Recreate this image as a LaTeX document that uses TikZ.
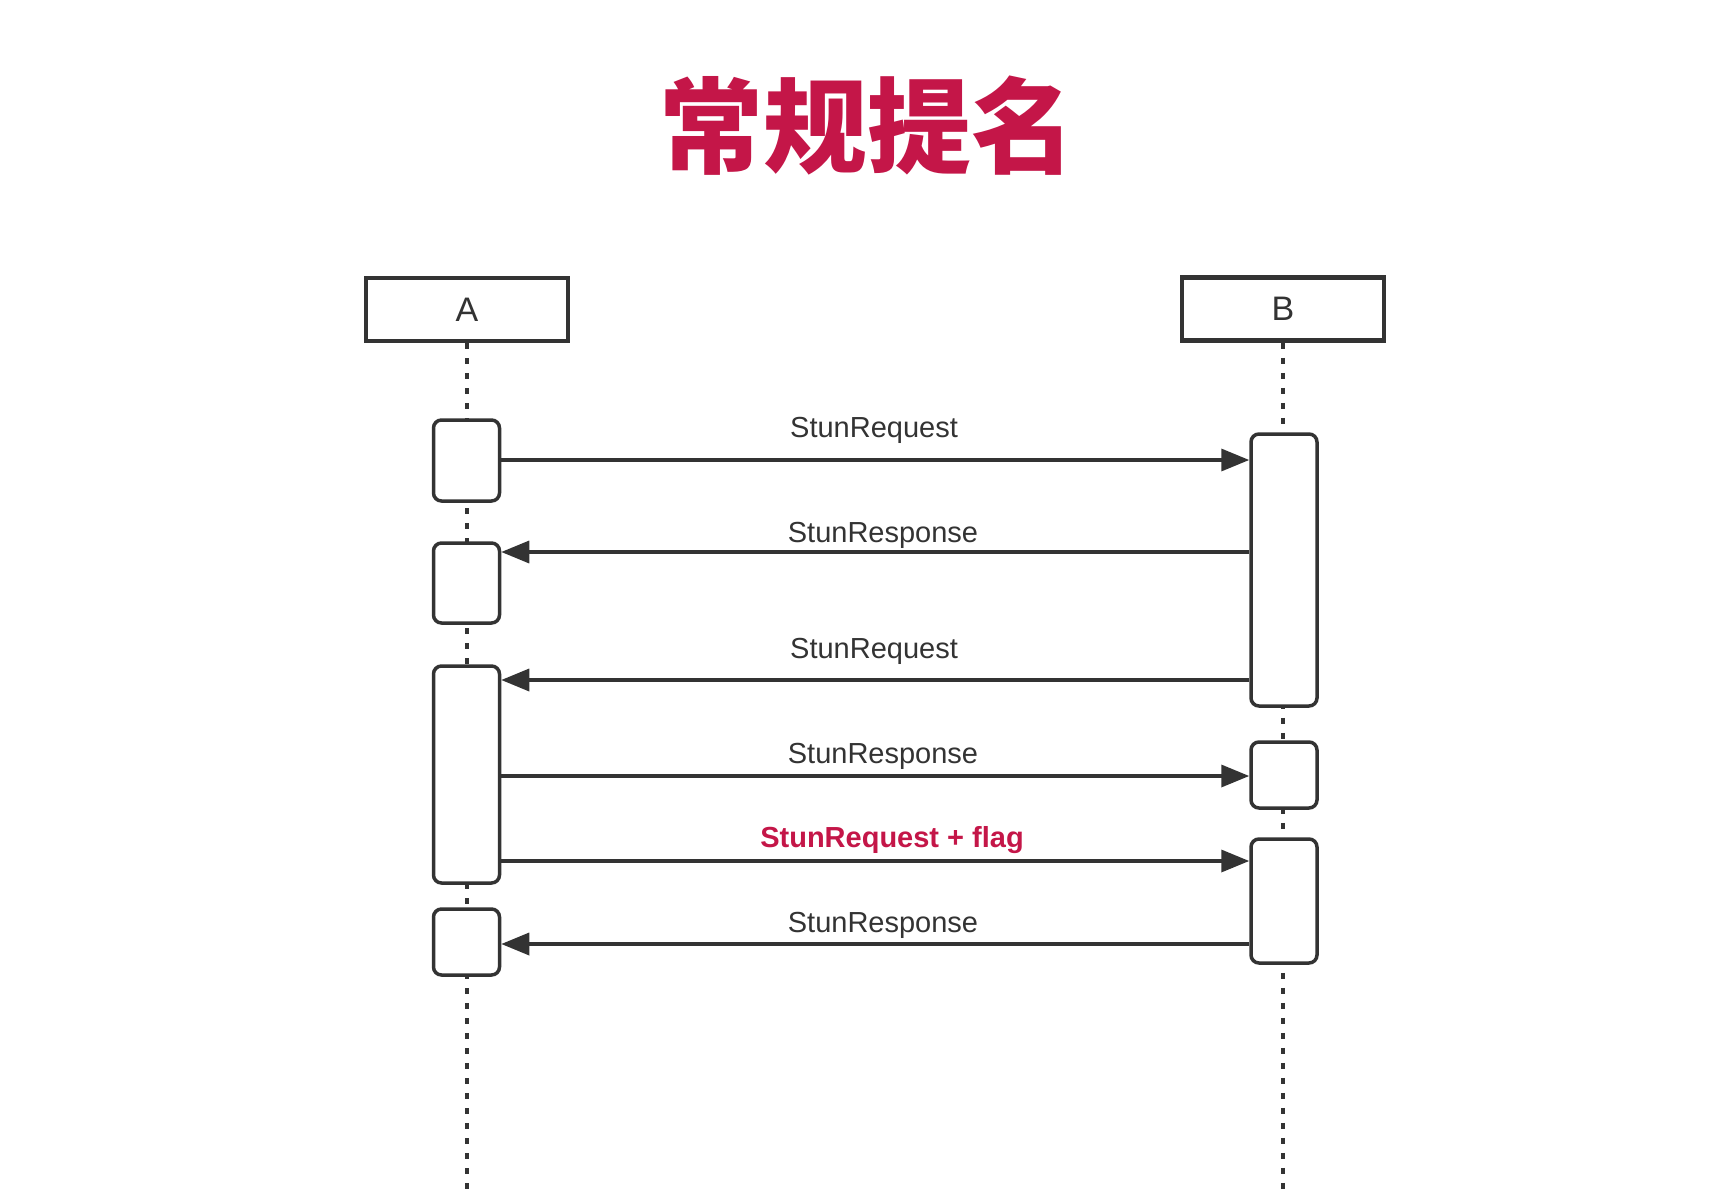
\documentclass[tikz,border=0pt]{standalone}
\usepackage{fontspec}
\setmainfont{Liberation Sans}
\newfontfamily\cjk{Noto Sans CJK SC}
\usetikzlibrary{arrows.meta,calc}
\definecolor{crim}{RGB}{196,22,72}
\definecolor{ink}{RGB}{51,51,51}
\tikzset{
  part/.style={draw=ink, line width=4.5pt, fill=white, minimum width=202pt, minimum height=63pt, inner sep=0pt, font=\fontsize{34}{40}\selectfont, text=ink},
  actbox/.style={draw=ink, line width=3.5pt, fill=white, rounded corners=8pt, minimum width=66pt, inner sep=0pt},
  lifeline/.style={draw=ink, line width=3.5pt, dash pattern=on 6pt off 9pt},
  msg/.style={draw=ink, line width=3.5pt, -{Triangle[length=28pt,width=22pt]}},
  msglabel/.style={anchor=base, inner sep=0pt, text=ink, font=\fontsize{29}{34}\selectfont},
}
\begin{document}
\begin{tikzpicture}[x=1pt,y=-1pt]
\useasboundingbox[fill=white] (0,0) rectangle (1722,1196);
% title
\node[text=crim, font=\cjk\bfseries\fontsize{104}{114}\selectfont, inner sep=0pt] (title) at (867,126) {常规提名};
% participants
\node[part] (A) at (467,309.5) {A};
\node[part] (B) at (1283,309) {B};
\coordinate (Aend) at (467,1196);
\coordinate (Bend) at (1283,1196);
\draw[lifeline] (A.south) -- (Aend);
\draw[lifeline] (B.south) -- (Bend);
% activations
\node[actbox, minimum height=81pt] (a1) at (466.5,460.5) {};
\node[actbox, minimum height=80pt] (a2) at (466.5,583) {};
\node[actbox, minimum height=217pt] (a3) at (466.5,774.5) {};
\node[actbox, minimum height=66pt] (a4) at (466.5,942) {};
\node[actbox, minimum height=272pt] (b1) at (1284,570) {};
\node[actbox, minimum height=66pt] (b2) at (1284,775) {};
\node[actbox, minimum height=124pt] (b3) at (1284,901) {};
% message levels
\coordinate (m1) at (0,460);
\coordinate (m2) at (0,552);
\coordinate (m3) at (0,680);
\coordinate (m4) at (0,776);
\coordinate (m5) at (0,861);
\coordinate (m6) at (0,944);
% messages
\draw[msg] (a1.east |- m1) -- (b1.west |- m1);
\draw[msg] (b1.west |- m2) -- (a2.east |- m2);
\draw[msg] (b1.west |- m3) -- (a3.east |- m3);
\draw[msg] (a3.east |- m4) -- (b2.west |- m4);
\draw[msg] (a3.east |- m5) -- (b3.west |- m5);
\draw[msg] (b3.west |- m6) -- (a4.east |- m6);
% labels
\node[msglabel] (l1) at (874,437) {StunRequest};
\node[msglabel] (l2) at (883,542) {StunResponse};
\node[msglabel] (l3) at (874,658) {StunRequest};
\node[msglabel] (l4) at (883,763) {StunResponse};
\node[msglabel, text=crim, font=\bfseries\fontsize{29}{34}\selectfont] (l5) at (892,847) {StunRequest + flag};
\node[msglabel] (l6) at (883,932) {StunResponse};
\end{tikzpicture}
\end{document}
